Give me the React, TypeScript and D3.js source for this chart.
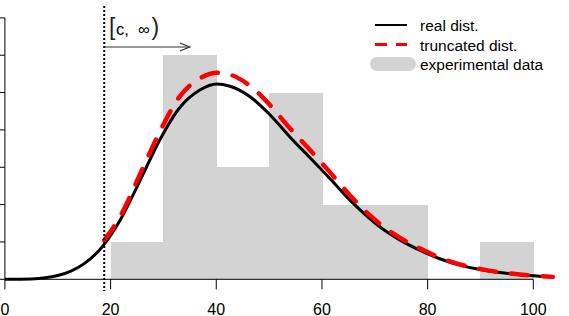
import * as d3 from 'd3';
import React from 'react';

// histogram of experimental data (density per bin of width 10)
const binStarts = [20, 30, 40, 50, 60, 70, 80, 90];
const binDensity = [0.005, 0.03, 0.015, 0.025, 0.01, 0.01, 0, 0.005];
const binWidth = 10;

// real distribution
const realX = [0, 5, 10, 12.5, 15, 18, 21.8, 25.6, 29.3, 33.1, 36.9, 40.1, 42.6, 46.4, 50.2, 53.9, 57.7, 61.5, 65.3, 69.1, 71, 74.8, 78.5, 82.3, 86.1, 89.9, 93.7, 97.5, 103.7];
const realY = [0, 0.00005, 0.0005, 0.0011, 0.0021, 0.004, 0.0079, 0.01325, 0.01865, 0.023, 0.02535, 0.02615, 0.02585, 0.02445, 0.022, 0.0191, 0.0163, 0.0135, 0.0106, 0.0081, 0.007, 0.00525, 0.0039, 0.00275, 0.0019, 0.0013, 0.0009, 0.000625, 0.0003];

// truncated distribution (from c onwards)
const truncX = [18.8, 21.8, 25.6, 29.3, 33.1, 36.9, 40.1, 42.6, 46.4, 50.2, 53.9, 57.7, 61.5, 65.3, 69.1, 71, 74.8, 78.5, 82.3, 86.1, 89.9, 93.7, 97.5, 103.7];
const truncY = [0.00525, 0.0084, 0.0141, 0.01975, 0.0245, 0.0269, 0.02765, 0.0274, 0.0259, 0.0233, 0.02025, 0.01735, 0.01435, 0.01125, 0.00855, 0.0074, 0.00555, 0.00415, 0.0029, 0.002, 0.0014, 0.00095, 0.00065, 0.000325];

const cutoff = 18.8;
const arrowEnd = 35;
const xTicks = [0, 20, 40, 60, 80, 100];
const yTicks = [0, 0.005, 0.01, 0.015, 0.02, 0.025, 0.03, 0.035];
const legendLabels = ['real dist.', 'truncated dist.', 'experimental data'];

const W = 569;
const H = 316;
const font = '"Liberation Sans", Arial, Helvetica, sans-serif';

export default function App() {
  const x = d3.scaleLinear().domain([0, 100]).range([4.9, 533.3]);
  const y = d3.scaleLinear().domain([0, 0.035]).range([279.3, 17.9]);

  const line = d3
    .line<[number, number]>()
    .x((d) => x(d[0]))
    .y((d) => y(d[1]))
    .curve(d3.curveMonotoneX);

  const realPath = line(realX.map((v, i) => [v, realY[i]] as [number, number])) || '';
  const truncPath = line(truncX.map((v, i) => [v, truncY[i]] as [number, number])) || '';

  const y0 = y(0);
  const arrowY = 47;
  const legX = 375;
  const legRows = [25, 44.5, 64];

  return (
    <svg
      width={W}
      height={H}
      style={{ position: 'fixed', left: 0, top: 0, background: '#fff' }}
      fontFamily={font}
    >
      {/* histogram */}
      <g shapeRendering="crispEdges">
        {binStarts.map((b, i) =>
          binDensity[i] > 0 ? (
            <rect
              key={b}
              x={x(b)}
              y={y(binDensity[i])}
              width={x(b + binWidth) - x(b) + 0.6}
              height={y0 - y(binDensity[i])}
              fill="#d3d3d3"
            />
          ) : null,
        )}
      </g>

      {/* x axis */}
      <g stroke="#000" strokeWidth={1}>
        <line x1={x(0)} x2={x(100)} y1={y0} y2={y0} />
        {xTicks.map((t) => (
          <line key={t} x1={x(t)} x2={x(t)} y1={y0} y2={y0 + 10} />
        ))}
      </g>
      {xTicks.map((t) => (
        <text key={t} x={x(t)} y={314.5} textAnchor="middle" fontSize={16} fill="#000">
          {t}
        </text>
      ))}

      {/* y axis */}
      <g stroke="#000" strokeWidth={1}>
        <line x1={x(0)} x2={x(0)} y1={y(0.035)} y2={y0} />
        {yTicks.map((t) => (
          <line key={t} x1={x(0) - 10} x2={x(0)} y1={y(t)} y2={y(t)} />
        ))}
      </g>

      {/* curves */}
      <path d={realPath} fill="none" stroke="#000" strokeWidth={3} />
      <path
        d={truncPath}
        fill="none"
        stroke="#ff0000"
        strokeWidth={4.5}
        strokeDasharray="17 15"
        strokeLinecap="round"
      />

      {/* cutoff */}
      <line
        x1={x(cutoff)}
        x2={x(cutoff)}
        y1={6}
        y2={291}
        stroke="#000"
        strokeWidth={2}
        strokeDasharray="2 2"
      />
      <g stroke="#333" strokeWidth={1.2} fill="none">
        <line x1={x(cutoff)} x2={x(arrowEnd)} y1={arrowY} y2={arrowY} />
        <polyline
          points={`${x(arrowEnd) - 10},${arrowY - 4} ${x(arrowEnd)},${arrowY} ${x(arrowEnd) - 10},${arrowY + 4}`}
        />
      </g>
      <text x={109} y={35} fontSize={23} fill="#222" fontWeight={300}>
        [
      </text>
      <text x={116} y={35} fontSize={16.5} fill="#000" xmlSpace="preserve">
        {'c,  ∞'}
      </text>
      <text x={151.5} y={35} fontSize={23} fill="#222" fontWeight={300}>
        )
      </text>

      {/* legend */}
      <line x1={legX} x2={legX + 32} y1={legRows[0]} y2={legRows[0]} stroke="#000" strokeWidth={2} />
      <line
        x1={legX}
        x2={legX + 32}
        y1={legRows[1]}
        y2={legRows[1]}
        stroke="#ff0000"
        strokeWidth={3}
        strokeDasharray="12 9"
      />
      <line
        x1={legX + 2}
        x2={legX + 34}
        y1={legRows[2]}
        y2={legRows[2]}
        stroke="#d3d3d3"
        strokeWidth={14}
        strokeLinecap="round"
      />
      {legendLabels.map((l, i) => (
        <text key={l} x={420} y={legRows[i] + 6} fontSize={15.5} fill="#000">
          {l}
        </text>
      ))}
    </svg>
  );
}
